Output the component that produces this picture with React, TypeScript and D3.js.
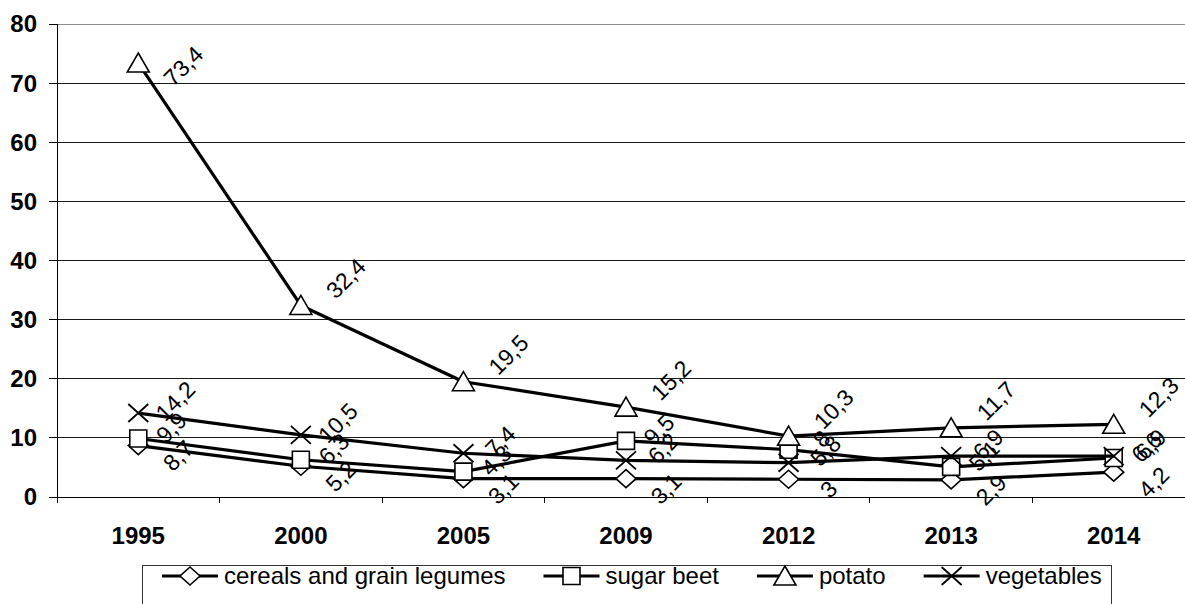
import { useMemo } from 'react'
import * as d3 from 'd3'

const years = ['1995', '2000', '2005', '2009', '2012', '2013', '2014']
const yTicks = [0, 10, 20, 30, 40, 50, 60, 70, 80]

const cereals = [8.7, 5.2, 3.1, 3.1, 3, 2.9, 4.2]
const sugarBeet = [9.9, 6.3, 4.3, 9.5, 8, 5.1, 6.6]
const potato = [73.4, 32.4, 19.5, 15.2, 10.3, 11.7, 12.3]
const vegetables = [14.2, 10.5, 7.4, 6.2, 5.8, 6.9, 6.9]

type Marker = 'diamond' | 'square' | 'triangle' | 'cross'

const series: { name: string; values: number[]; marker: Marker; dx: number; dy: number }[] = [
  { name: 'cereals and grain legumes', values: cereals, marker: 'diamond', dx: 40, dy: 10 },
  { name: 'sugar beet', values: sugarBeet, marker: 'square', dx: 33, dy: -11 },
  { name: 'potato', values: potato, marker: 'triangle', dx: 45, dy: -27 },
  { name: 'vegetables', values: vegetables, marker: 'cross', dx: 37, dy: -12 },
]

const FONT = '"Liberation Sans", Arial, Helvetica, sans-serif'

function markerPath(kind: Marker) {
  switch (kind) {
    case 'diamond':
      return 'M0,-9 L10,0 L0,9 L-10,0 Z'
    case 'square':
      return 'M-8.5,-8.5 H8.5 V8.5 H-8.5 Z'
    case 'triangle':
      return 'M0,-10 L11,9 L-11,9 Z'
    case 'cross':
      return 'M-10,-9 L10,9 M10,-9 L-10,9'
  }
}

function MarkerShape({ kind, x, y }: { kind: Marker; x: number; y: number }) {
  return (
    <path
      d={markerPath(kind)}
      transform={`translate(${x},${y})`}
      fill={kind === 'cross' ? 'none' : '#fff'}
      stroke="#000"
      strokeWidth={kind === 'cross' ? 1.8 : 1.6}
    />
  )
}

const fmt = (v: number) => String(v).replace('.', ',')

export default function App() {
  const width = 1185
  const height = 604
  const plot = { left: 57, top: 24, right: 1195, bottom: 497 }

  const x = useMemo(() => d3.scaleBand().domain(years).range([plot.left, plot.right]).padding(0), [])
  const y = useMemo(() => d3.scaleLinear().domain([0, 80]).range([plot.bottom, plot.top]), [])
  const cx = (year: string) => (x(year) ?? 0) + x.bandwidth() / 2

  const line = d3
    .line<number>()
    .x((_, i) => cx(years[i]))
    .y((v) => y(v))

  // legend layout from measured text widths
  const legendItems = useMemo(() => {
    const ctx = document.createElement('canvas').getContext('2d')
    if (ctx) ctx.font = `24px ${FONT}`
    let pos = 162
    return series.map((s) => {
      const w = ctx ? ctx.measureText(s.name).width : s.name.length * 12
      const item = { ...s, x0: pos, x1: pos + 56, tx: pos + 62 }
      pos = item.tx + w + 38
      return item
    })
  }, [])

  return (
    <svg
      width={width}
      height={height}
      style={{ position: 'absolute', left: 0, top: 0, background: '#fff', fontFamily: FONT }}
    >
      {/* gridlines */}
      {yTicks.map((t) => (
        <line
          key={t}
          x1={plot.left}
          x2={plot.right}
          y1={y(t)}
          y2={y(t)}
          stroke={t === 80 ? '#8c8c8c' : '#1a1a1a'}
          strokeWidth={1}
          shapeRendering="crispEdges"
        />
      ))}

      {/* y axis */}
      <line x1={plot.left} x2={plot.left} y1={plot.top} y2={plot.bottom + 6} stroke="#000" shapeRendering="crispEdges" />
      {yTicks.map((t) => (
        <g key={t} transform={`translate(0,${y(t)})`}>
          <line x1={plot.left - 8} x2={plot.left} stroke="#000" shapeRendering="crispEdges" />
          <text x={37} y={0} dy="0.35em" textAnchor="end" fontSize={24} fontWeight={700} fill="#000">
            {t}
          </text>
        </g>
      ))}

      {/* x axis */}
      <line x1={plot.left} x2={plot.right} y1={plot.bottom} y2={plot.bottom} stroke="#000" shapeRendering="crispEdges" />
      {years.map((yr) => (
        <g key={yr}>
          <line
            x1={(x(yr) ?? 0) + x.bandwidth()}
            x2={(x(yr) ?? 0) + x.bandwidth()}
            y1={plot.bottom}
            y2={plot.bottom + 6}
            stroke="#000"
            shapeRendering="crispEdges"
          />
          <text x={cx(yr)} y={544} textAnchor="middle" fontSize={24} fontWeight={700} fill="#000">
            {yr}
          </text>
        </g>
      ))}

      {/* series */}
      {series.map((s) => (
        <g key={s.name}>
          <path d={line(s.values) ?? ''} fill="none" stroke="#000" strokeWidth={3.2} strokeLinejoin="round" />
          {s.values.map((v, i) => (
            <MarkerShape key={i} kind={s.marker} x={cx(years[i])} y={y(v)} />
          ))}
        </g>
      ))}

      {/* data labels, kept inside the plot area */}
      {series.map((s) =>
        s.values.map((v, i) => {
          const lx = cx(years[i]) + s.dx
          const ly = Math.max(y(v) + s.dy, plot.top + 42)
          return (
            <text
              key={`${s.name}-${i}`}
              x={lx}
              y={ly}
              textAnchor="middle"
              dy="0.35em"
              fontSize={23}
              fill="#000"
              transform={`rotate(-45,${lx},${ly})`}
            >
              {fmt(v)}
            </text>
          )
        }),
      )}

      {/* legend */}
      <rect x={142.5} y={565.5} width={969} height={60} fill="#fff" stroke="#333" strokeWidth={1} />
      {legendItems.map((item) => (
        <g key={item.name}>
          <line x1={item.x0} x2={item.x1} y1={576} y2={576} stroke="#000" strokeWidth={3.2} />
          <MarkerShape kind={item.marker} x={(item.x0 + item.x1) / 2} y={576} />
          <text x={item.tx} y={576} dy="0.35em" fontSize={24} fill="#000">
            {item.name}
          </text>
        </g>
      ))}
    </svg>
  )
}
